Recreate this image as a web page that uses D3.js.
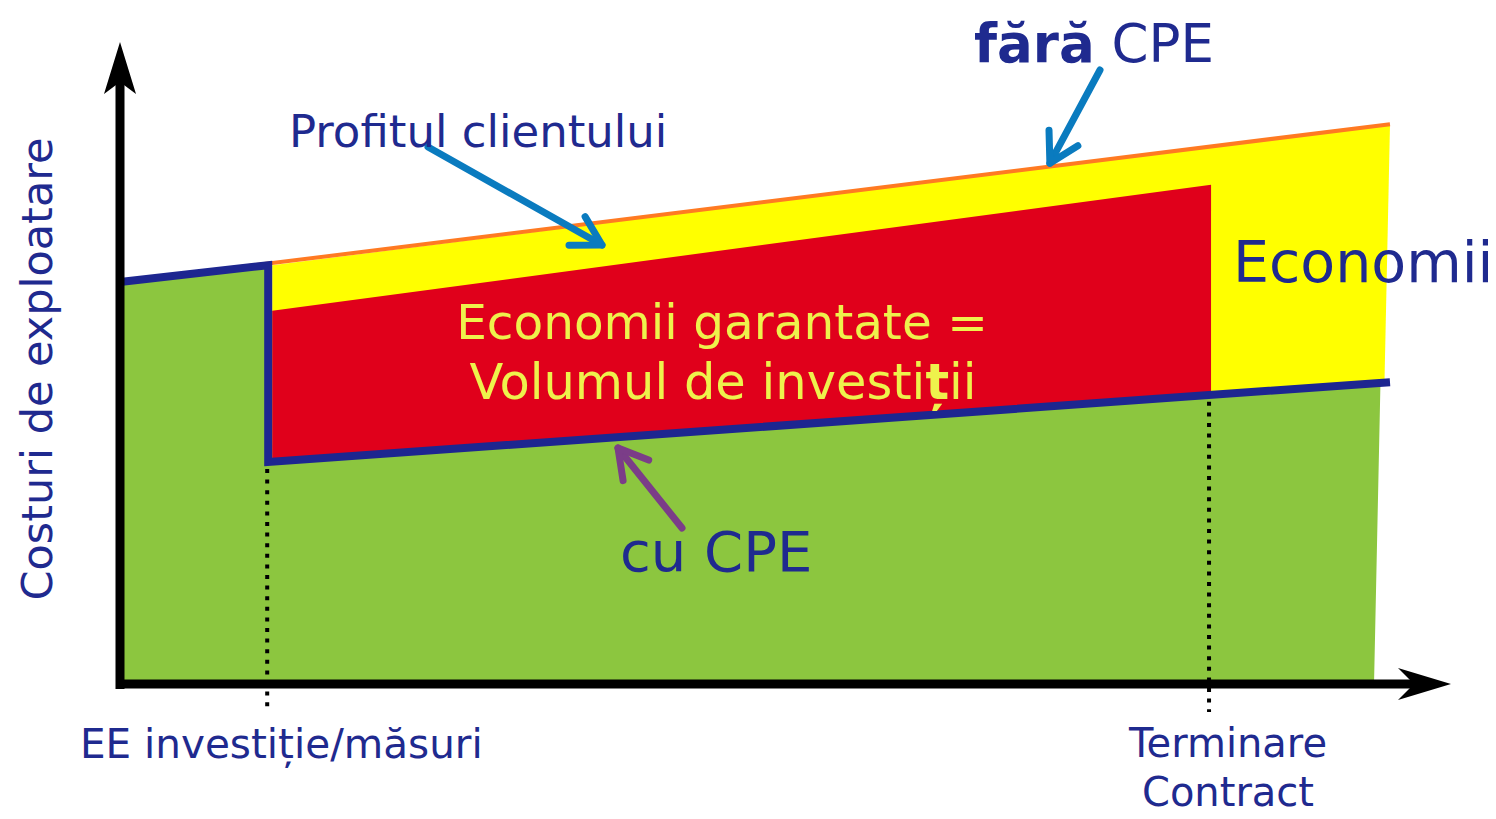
<!DOCTYPE html>
<html lang="ro">
<head>
  <meta charset="UTF-8">
  <title>CPE</title>
  <script src="https://cdn.jsdelivr.net/npm/d3@7"></script>
  <style>
    body { margin: 0; background: #fff; }
    text { font-family: "DejaVu Sans", Verdana, sans-serif; }
  </style>
</head>
<body>
  <svg width="1496" height="819"></svg>
  <script>
    // timpul (ani) si costurile (unitati arbitrare)
    var years = [0, 2.25, 17.2, 20];           // start, investitie, terminare contract, sfarsit
    var costFaraCPE = [67, 69.8, 89.6, 93.3];  // costuri fara CPE
    var costCuCPE = [null, 37, 48.2, 50.3];    // costuri cu CPE
    var garantatTop = [null, 62.2, 83.2, null]; // limita superioara economii garantate
    var eventLabels = ['EE investiție/măsuri', 'Terminare', 'Contract'];

    var blue = '#1f2a8f';
    var svg = d3.select('svg');

    var xScale = d3.scaleLinear().domain([0, 20]).range([124, 1388]);
    var yScale = d3.scaleLinear().domain([0, 100]).range([684, 84]);

    // right edge of the bands leans a little
    function rightX(py) { return xScale(years[3]) + 2 - (py - 124) * 0.0214; }

    var line = d3.line();
    var gap = 6;

    // green area (costs with CPE)
    var greenPts = [
      [xScale(years[0]), yScale(0)],
      [xScale(years[0]), yScale(costFaraCPE[0])],
      [xScale(years[1]), yScale(costFaraCPE[1])],
      [xScale(years[1]), yScale(costCuCPE[1])],
      [xScale(years[2]), yScale(costCuCPE[2])],
      [rightX(yScale(costCuCPE[3])) - 4, yScale(costCuCPE[3])],
      [rightX(yScale(0)) - 4, yScale(0)]
    ];
    svg.append('path').attr('d', line(greenPts) + 'Z').attr('fill', '#8cc63f');

    // yellow (economii)
    var yellowPts = [
      [xScale(years[1]) + gap, yScale(costFaraCPE[1])],
      [xScale(years[2]), yScale(costFaraCPE[2])],
      [rightX(yScale(costFaraCPE[3])), yScale(costFaraCPE[3])],
      [rightX(yScale(costCuCPE[3])), yScale(costCuCPE[3])],
      [xScale(years[2]), yScale(costCuCPE[2])],
      [xScale(years[1]) + gap, yScale(costCuCPE[1])]
    ];
    svg.append('path').attr('d', line(yellowPts) + 'Z').attr('fill', '#ffff00');

    // red (economii garantate)
    var redPts = [
      [xScale(years[1]) + gap, yScale(garantatTop[1])],
      [xScale(years[2]), yScale(garantatTop[2])],
      [xScale(years[2]), yScale(costCuCPE[2])],
      [xScale(years[1]) + gap, yScale(costCuCPE[1])]
    ];
    svg.append('path').attr('d', line(redPts) + 'Z').attr('fill', '#e0001b');

    // orange line: fara CPE
    svg.append('path')
      .attr('d', line([[xScale(years[0]) - 4, yScale(costFaraCPE[0])], [xScale(years[3]) + 2, yScale(costFaraCPE[3])]]))
      .attr('stroke', '#ff7a22').attr('stroke-width', 4).attr('fill', 'none');

    // blue line: cu CPE
    svg.append('path')
      .attr('d', line([
        [xScale(years[0]) - 4, yScale(costFaraCPE[0])],
        [xScale(years[1]) + 2, yScale(costFaraCPE[1])],
        [xScale(years[1]) + 2, yScale(costCuCPE[1])],
        [xScale(years[3]) + 2, yScale(costCuCPE[3])]
      ]))
      .attr('stroke', '#1d2690').attr('stroke-width', 8).attr('fill', 'none')
      .attr('stroke-linejoin', 'miter');

    // dotted markers
    [[years[1], costCuCPE[1], 708], [years[2], costCuCPE[2], 712]].forEach(function(d, i) {
      svg.append('line')
        .attr('x1', xScale(d[0]) + (i === 0 ? 1 : -2)).attr('x2', xScale(d[0]) + (i === 0 ? 1 : -2))
        .attr('y1', yScale(d[1]) + 7).attr('y2', d[2])
        .attr('stroke', '#000').attr('stroke-width', 4).attr('stroke-dasharray', '4,6.6');
    });

    // axes
    svg.append('line').attr('x1', 120).attr('x2', 120).attr('y1', 689).attr('y2', 80)
      .attr('stroke', '#000').attr('stroke-width', 9);
    svg.append('line').attr('x1', 116).attr('x2', 1420).attr('y1', 684).attr('y2', 684)
      .attr('stroke', '#000').attr('stroke-width', 9);
    svg.append('path').attr('d', 'M120,42 L136,94 L120,82 L104,94 Z').attr('fill', '#000');
    svg.append('path').attr('d', 'M1451,684 L1398,668 L1414,684 L1398,700 Z').attr('fill', '#000');

    // arrows
    function arrow(x1, y1, x2, y2, color) {
      var a = Math.atan2(y2 - y1, x2 - x1), len = 33, spread = 0.52;
      var g = svg.append('g').attr('stroke', color).attr('stroke-width', 7)
        .attr('stroke-linecap', 'round').attr('stroke-linejoin', 'round').attr('fill', 'none');
      g.append('path').attr('d', line([[x1, y1], [x2, y2]]));
      g.append('path').attr('d', line([
        [x2 - len * Math.cos(a - spread), y2 - len * Math.sin(a - spread)],
        [x2, y2],
        [x2 - len * Math.cos(a + spread), y2 - len * Math.sin(a + spread)]
      ]));
    }
    arrow(1100, 70, xScale(14.65), yScale(86.8), '#0a7bbf');
    arrow(428, 147, 602, 245, '#0a7bbf');
    arrow(682, 528, 618, 448, '#7b3d88');

    // texts
    svg.append('text')
      .attr('transform', 'translate(52,369) rotate(-90)')
      .attr('text-anchor', 'middle').attr('font-size', 43).attr('fill', blue)
      .text('Costuri de exploatare');

    svg.append('text').attr('x', 289).attr('y', 147).attr('font-size', 45).attr('fill', blue)
      .text('Profitul clientului');

    var fara = svg.append('text').attr('x', 974).attr('y', 62).attr('font-size', 53).attr('fill', blue);
    fara.append('tspan').attr('font-weight', 'bold').text('fără');
    fara.append('tspan').text(' CPE');

    svg.append('text').attr('x', 1233).attr('y', 282).attr('font-size', 57).attr('fill', blue)
      .text('Economii');

    svg.append('text').attr('x', 722).attr('y', 339).attr('text-anchor', 'middle')
      .attr('font-size', 48.5).attr('fill', '#eef24c').text('Economii garantate =');
    var vol = svg.append('text').attr('x', 723).attr('y', 399).attr('text-anchor', 'middle')
      .attr('font-size', 49.5).attr('fill', '#eef24c');
    vol.append('tspan').text('Volumul de investi');
    vol.append('tspan').attr('font-weight', 'bold').text('ț');
    vol.append('tspan').text('ii');

    svg.append('text').attr('x', 620).attr('y', 571).attr('font-size', 56).attr('fill', blue)
      .text('cu CPE');

    svg.append('text').attr('x', 80).attr('y', 758).attr('font-size', 40.5).attr('fill', blue)
      .text(eventLabels[0]);
    svg.append('text').attr('x', 1228).attr('y', 757).attr('text-anchor', 'middle')
      .attr('font-size', 40).attr('fill', blue).text(eventLabels[1]);
    svg.append('text').attr('x', 1228).attr('y', 806).attr('text-anchor', 'middle')
      .attr('font-size', 40).attr('fill', blue).text(eventLabels[2]);
  </script>
</body>
</html>
